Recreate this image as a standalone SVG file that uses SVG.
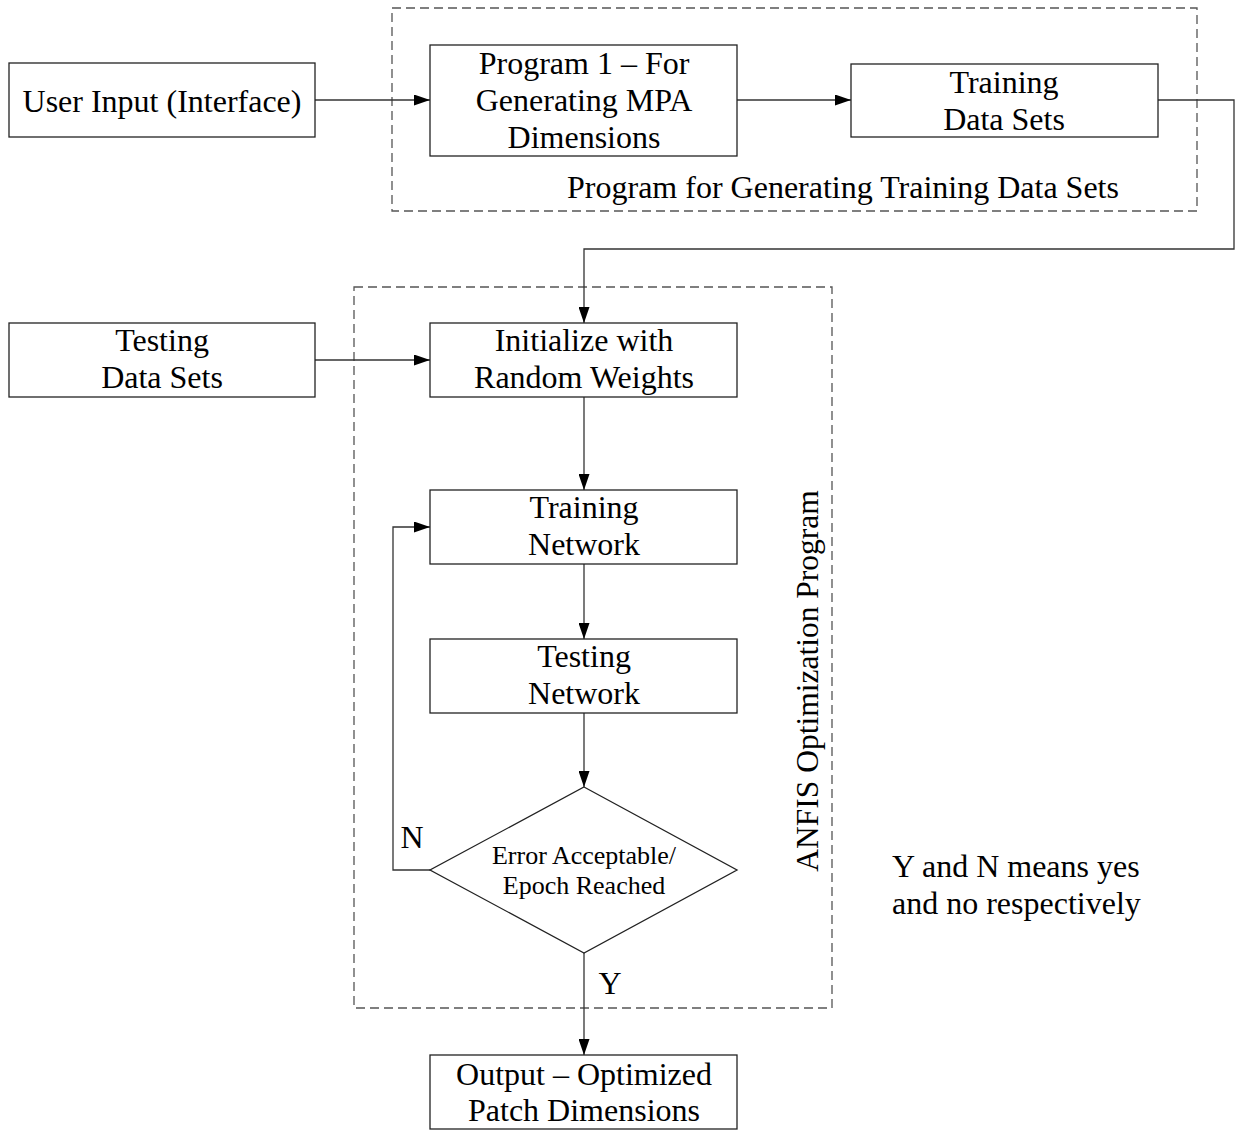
<svg xmlns="http://www.w3.org/2000/svg" width="1241" height="1131" viewBox="0 0 1241 1131">
<defs>
<marker id="arr" viewBox="0 0 16 11" refX="16" refY="5.5" markerWidth="16" markerHeight="11" markerUnits="userSpaceOnUse" orient="auto">
<path d="M0,0 L16,5.5 L0,11 z" fill="#000"/>
</marker>
</defs>
<style>
.box{fill:#fff;stroke:#222;stroke-width:1.3}
.dash{fill:none;stroke:#555;stroke-width:1.3;stroke-dasharray:9 5}
.con{fill:none;stroke:#333;stroke-width:1.3}
text{font-family:"Liberation Serif","Times New Roman",serif;fill:#000;font-size:32px;text-anchor:middle}
.sm{font-size:26px}
.st{text-anchor:start}
</style>
<rect width="1241" height="1131" fill="#fff"/>
<g id="groups">
<rect id="grp-training" class="dash" x="392" y="8" width="805" height="203"/>
<text x="843" y="198">Program for Generating Training Data Sets</text>
<rect id="grp-anfis" class="dash" x="354" y="287" width="478" height="721"/>
<text transform="translate(818,681) rotate(-90)" style="font-size:31.5px">ANFIS Optimization Program</text>
</g>
<g id="connectors">
<path class="con" d="M315,100 H430" marker-end="url(#arr)"/>
<path class="con" d="M737,100 H851" marker-end="url(#arr)"/>
<path class="con" d="M1158,100 H1234 V249 H584 V323" marker-end="url(#arr)"/>
<path class="con" d="M315,360 H430" marker-end="url(#arr)"/>
<path class="con" d="M584,397 V490" marker-end="url(#arr)"/>
<path class="con" d="M584,564 V639" marker-end="url(#arr)"/>
<path class="con" d="M584,713 V787" marker-end="url(#arr)"/>
<path class="con" d="M430,870 H393 V527 H430" marker-end="url(#arr)"/>
<path class="con" d="M584,953 V1055" marker-end="url(#arr)"/>
<text x="412" y="848">N</text>
<text x="610" y="994">Y</text>
</g>
<g id="user-input">
<rect class="box" x="9" y="63" width="306" height="74"/>
<text x="162" y="112">User Input (Interface)</text>
</g>
<g id="program1">
<rect class="box" x="430" y="45" width="307" height="111"/>
<text x="584" y="74">Program 1 – For</text>
<text x="584" y="111">Generating MPA</text>
<text x="584" y="148">Dimensions</text>
</g>
<g id="training-data">
<rect class="box" x="851" y="64" width="307" height="73"/>
<text x="1004" y="93">Training</text>
<text x="1004" y="130">Data Sets</text>
</g>
<g id="testing-data">
<rect class="box" x="9" y="323" width="306" height="74"/>
<text x="162" y="351">Testing</text>
<text x="162" y="388">Data Sets</text>
</g>
<g id="initialize">
<rect class="box" x="430" y="323" width="307" height="74"/>
<text x="584" y="351">Initialize with</text>
<text x="584" y="388">Random Weights</text>
</g>
<g id="training-network">
<rect class="box" x="430" y="490" width="307" height="74"/>
<text x="584" y="518">Training</text>
<text x="584" y="555">Network</text>
</g>
<g id="testing-network">
<rect class="box" x="430" y="639" width="307" height="74"/>
<text x="584" y="667">Testing</text>
<text x="584" y="704">Network</text>
</g>
<g id="decision">
<polygon class="box" points="584,787 737,870 584,953 430,870"/>
<text class="sm" x="584" y="864">Error Acceptable/</text>
<text class="sm" x="584" y="894">Epoch Reached</text>
</g>
<g id="output">
<rect class="box" x="430" y="1055" width="307" height="74"/>
<text x="584" y="1085">Output – Optimized</text>
<text x="584" y="1121">Patch Dimensions</text>
</g>
<g id="note">
<text class="st" x="892" y="877">Y and N means yes</text>
<text class="st" x="892" y="914">and no respectively</text>
</g>
</svg>
